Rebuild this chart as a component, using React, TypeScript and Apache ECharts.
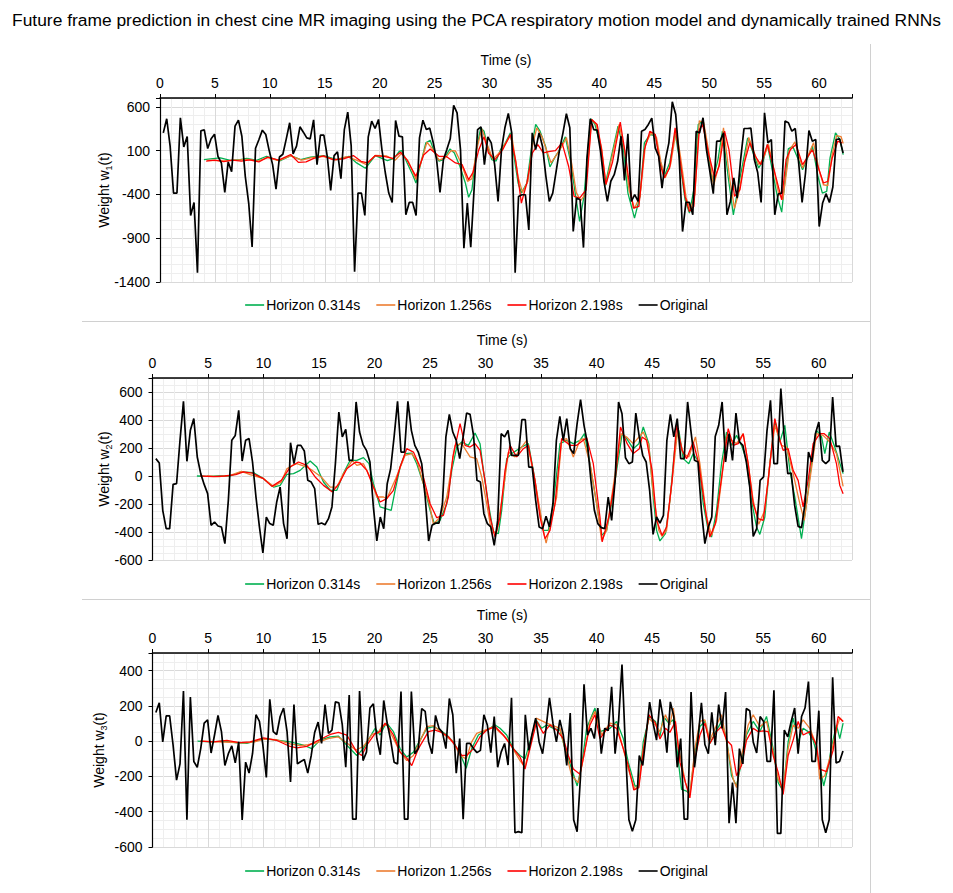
import React, { useEffect, useRef } from "react";
import * as echarts from "echarts";

// Frame timing of the cine MR sequence (seconds)
const FRAME_T0 = 0.3;
const FRAME_DT = 0.311;

const SERIES_NAMES = ["Horizon 0.314s", "Horizon 1.256s", "Horizon 2.198s", "Original"];
const SERIES_COLORS = ["#00B050", "#ED7D31", "#FF0000", "#000000"];
const TIME_TICKS = { min: 0, max: 63, interval: 5 };

// ---------- Weight w1(t) ----------
const w1Original = [
  302, 463, 150, -385, -385, 474, 142, 260, -640, -492,
  -1293, 325, 337, 123, 234, 287, 35, -41, -377, -30,
  -140, 379, 447, 264, -194, -499, -1000, 127, 226, 333,
  283, 100, -60, -339, 27, 58, 234, 417, 62, 150,
  371, 310, 245, 234, 451, -60, 276, 276, 35, -354,
  43, 85, -221, 340, 539, 157, -1282, -385, -385, -640,
  257, 436, 352, 455, 111, -156, -385, -492, 443, 264,
  257, -633, -492, -492, -640, 245, 447, 340, 356, 195,
  -3, -377, -3, 111, 234, 615, 531, 111, -1015, -499,
  -1003, -330, 340, 371, -60, 257, 188, -60, -480, 111,
  360, 524, 302, -1293, -423, -404, -404, -805, 302, 111,
  302, 150, -194, -480, -385, -137, 111, 302, 520, 360,
  -824, -442, -461, -1007, 0, 463, 340, 333, 92, -251,
  -480, -250, -175, -22, 264, -240, 291, -480, -404, -480,
  321, 340, 398, 470, 130, 35, -328, -3, 188, 657,
  512, 35, -824, -492, -492, -633, 321, 302, 474, 111,
  -137, -392, 207, 207, 302, -633, -480, -213, -442, -3,
  352, 352, 356, 0, -150, -492, 531, 188, 226, -633,
  -396, -385, 436, 417, 321, 352, -41, -492, -156, 329,
  207, 226, -767, -499, -392, -492, -316, 226, 234, 73,
];

const w1H0314 = [
  [4.0, -3], [4.6, 5], [5.5, 16], [6.4, -11], [7.3, -3], [7.9, 12], [8.8, -11], [9.7, 35],
  [10.9, -18], [11.9, 43], [12.8, -3], [13.7, 24], [14.9, 43], [16.1, -3], [17.2, 35], [17.9, -41],
  [18.7, -102], [19.6, 43], [20.7, -15], [21.3, 12], [21.8, 92], [22.0, 100], [22.5, -41], [23.0, -175],
  [23.3, -270], [24.2, 188], [24.6, 218], [24.9, 111], [25.4, -22], [25.8, -3], [26.4, 119], [26.8, 73],
  [27.3, -79], [27.8, -270], [28.1, -434], [28.4, -347], [28.8, 111], [29.2, 360], [29.5, 321], [29.8, 150],
  [30.2, -3], [30.6, -20], [31.0, 111], [31.4, 176], [31.9, 302], [32.6, -270], [32.9, -385], [33.4, -270],
  [33.8, 111], [34.2, 398], [34.6, 321], [35.1, 150], [35.5, -87], [36.0, 35], [36.4, 111], [36.9, 257],
  [37.4, -41], [37.8, -385], [38.2, -709], [38.6, -423], [39.2, 463], [39.6, 398], [40.1, 150], [40.5, -305],
  [41.3, 150], [41.7, 379], [42.2, 111], [42.6, -385], [43.2, -671], [43.7, -423], [44.1, 188], [44.6, 283],
  [45.1, 272], [45.5, -3], [45.9, -194], [46.4, -41], [46.9, 302], [47.3, -3], [47.8, -461], [48.2, -614],
  [48.6, -347], [49.0, 398], [49.4, 436], [49.8, 150], [50.3, -251], [50.8, -3], [51.2, 321], [51.8, -270],
  [52.2, -633], [52.6, -347], [53.5, 245], [54.5, -98], [54.9, -22], [55.3, 169], [55.8, -156], [56.2, -423],
  [56.6, -603], [57.2, 119], [57.6, 150], [58.5, -118], [59.4, 150], [59.9, -194], [60.3, -385], [60.7, -366],
  [61.0, 16], [61.5, 302], [61.9, 226], [62.2, 54],
];

const w1H1256 = [
  [4.3, -11], [5.2, -15], [6.0, -18], [7.0, -8], [8.0, 0], [8.9, -20], [9.8, 20], [10.8, -15],
  [11.9, 40], [12.9, -10], [13.8, 20], [14.8, 35], [16.0, -5], [17.0, 30], [18.0, -15], [18.8, -60],
  [19.6, 45], [20.6, 40], [21.4, -10], [22.0, 70], [22.6, -20], [23.3, -230], [24.3, 195], [24.8, 120],
  [25.4, -10], [26.0, 20], [26.5, 100], [26.9, 95], [27.4, -40], [28.0, -251], [28.4, -220], [28.9, 150],
  [29.3, 348], [29.7, 200], [30.3, 0], [31.0, 90], [31.5, 190], [32.0, 290], [32.6, -200], [33.0, -377],
  [33.5, -250], [33.9, 150], [34.3, 360], [34.8, 250], [35.2, 100], [35.6, -40], [36.1, 50], [36.6, 150],
  [37.0, 250], [37.5, -60], [37.9, -380], [38.3, -470], [38.7, -400], [39.3, 455], [39.7, 400], [40.2, 130],
  [40.6, -290], [41.4, 170], [41.8, 400], [42.3, 100], [42.7, -350], [43.2, -560], [43.7, -420], [44.2, 170],
  [44.7, 300], [45.2, 250], [45.6, -30], [46.0, -210], [46.5, -50], [47.0, 340], [47.4, 20], [47.9, -440],
  [48.3, -580], [48.7, -400], [49.1, 440], [49.5, 420], [49.9, 130], [50.4, -300], [50.9, -60], [51.3, 360],
  [51.9, -250], [52.3, -560], [52.7, -380], [53.6, 250], [54.5, -60], [54.9, 0], [55.4, 170], [55.9, -120],
  [56.3, -380], [56.7, -460], [57.3, 100], [57.8, 200], [58.5, -100], [59.5, 190], [60.0, -120], [60.4, -290],
  [60.8, -300], [61.2, 60], [61.6, 270], [62.0, 260], [62.2, 180],
];

const w1H2198 = [
  [4.2, -20], [5.0, -10], [5.8, -25], [6.6, -10], [7.4, -20], [8.2, -5], [9.0, -30], [9.8, 25],
  [10.8, -10], [11.9, 55], [12.6, -35], [13.3, -30], [14.0, 10], [14.9, 40], [15.8, -5], [16.7, 5],
  [17.6, 43], [18.3, -22], [18.9, -40], [19.6, 43], [20.5, 30], [21.2, 10], [21.9, 81], [22.5, -10],
  [23.3, -194], [24.0, 50], [24.6, 119], [25.4, 35], [26.1, 30], [26.9, -41], [27.5, -60], [28.1, -232],
  [28.5, -148], [29.0, 100], [29.5, 257], [29.9, 73], [30.5, -3], [31.2, 110], [31.9, 283], [32.4, -30],
  [32.9, -499], [33.4, -270], [33.9, 73], [34.4, 169], [34.9, 73], [35.5, 90], [36.0, 100], [36.6, 188],
  [37.2, -79], [37.7, -423], [38.2, -442], [38.8, -347], [39.3, 455], [39.8, 398], [40.2, 110], [40.6, -285],
  [41.2, -30], [41.9, 424], [42.3, 111], [42.7, -250], [43.1, -557], [43.6, -537], [44.1, 111], [44.6, 321],
  [45.1, 283], [45.5, -41], [45.9, -213], [46.4, -98], [46.9, 360], [47.3, 35], [47.8, -423], [48.2, -595],
  [48.6, -537], [49.1, 340], [49.4, 398], [50.0, 35], [50.5, -213], [50.9, -80], [51.4, 321], [51.8, 111],
  [52.3, -423], [52.8, -347], [53.2, -40], [53.7, 188], [54.2, 35], [54.7, -60], [55.3, 169], [55.9, -118],
  [56.6, -461], [57.0, -3], [57.4, 111], [57.9, 169], [58.5, -60], [59.2, 73], [59.4, 111], [60.0, -118],
  [60.4, -270], [60.8, -251], [61.2, 16], [61.7, 207], [62.1, 188],
];

// ---------- Weight w2(t) ----------
const w2Original = [
  124, 93, -245, -376, -376, -60, -55, 255, 533, 105,
  326, 410, 136, 17, -60, -126, -352, -329, -357, -364,
  -483, -174, 255, 290, 469, 107, 255, 267, 100,
  -150, -364, -550, -293, -340, -352, -186, -79, -340, -448,
  238, 88, 219, 219, 179, -31, -43, -90, -345, -336,
  -348, -305, -221, 88, 457, 279, 333, 112, 112, 529,
  314, 224, 183, 100, -221, -464, -293, -376, -55, 52,
  279, 533, 171, 171, 533, 326, 219, 171, 88, -150,
  -464, -352, -336, -336, -198, 279, 440, 314, 255, 124,
  279, 450, 440, 290, -31, -43, -269, -340, -364, -495,
  -317, 302, 279, 326, 148, 148, 148, 402, 402, 64,
  64, -174, -364, -376, -288, -364, -198, 255, 426, 255,
  410, 195, 160, 374, 545, 362, 231, -31, -245, -340,
  -369, -376, -150, -317, -31, 529, 445, 130, 88, 100,
  450, 279, 148, 100, -102, -417, -293, -336, -281, 255,
  440, 279, 410, 124, 124, 529, 314, 112, 100, -245,
  -483, -364, -293, 283, 362, 529, 100, 302, 112, 450,
  243, 219, 100, -79, -431, -376, -31, -7, 326, 540,
  88, 88, 624, 267, 17, 21, -210, -360, -369, -198,
  171, 100, 302, 386, 112, 88, 112, 564, 212, 214,
  29,
];

const w2H0314 = [
  [4.0, 0], [5.0, -2], [6.0, 0], [7.0, 0], [8.0, 29], [9.1, 24], [10.0, -19], [10.9, -79],
  [11.5, -67], [12.1, 12], [12.7, 17], [13.3, 40], [14.2, 107], [14.8, 64], [15.4, -43], [16.0, -102],
  [16.6, -102], [17.2, 20], [17.8, 112], [18.4, 112], [19.0, 131], [19.5, 88], [19.9, -55], [20.5, -221],
  [21.0, -233], [21.5, -245], [21.85, -102], [22.3, 64], [22.75, 160], [23.35, 164], [23.8, 88], [24.4, -55],
  [25.0, -245], [25.4, -345], [25.9, -317], [26.5, -198], [26.95, 40], [27.4, 207], [27.85, 243], [28.45, 219],
  [29.05, 307], [29.5, 231], [29.8, 40], [30.25, -198], [30.7, -400], [31.15, -412], [31.45, -245], [31.9, 124],
  [32.35, 160], [33.25, 207], [33.85, 231], [34.3, 40], [34.75, -198], [35.2, -388], [35.65, -388], [36.1, -198],
  [36.7, 231], [37.3, 255], [37.9, 231], [38.5, 255], [38.9, 302], [39.4, 88], [40.0, -198], [40.45, -424],
  [40.9, -388], [41.35, -198], [42.3, 302], [42.6, 279], [43.3, 195], [43.8, 231], [44.2, 350], [44.7, 231],
  [45.1, -150], [45.4, -388], [45.7, -464], [46.2, -412], [46.6, -174], [47.1, 255], [47.4, 326], [47.8, 124],
  [48.3, 88], [48.7, 160], [49.2, 100], [49.6, -198], [50.05, -388], [50.35, -436], [50.8, -245], [51.25, 88],
  [51.7, 314], [52.15, 219], [52.6, 290], [53.05, 219], [53.5, 112], [53.95, -174], [54.4, -364], [54.7, -417],
  [55.15, -293], [55.6, 88], [56.05, 398], [56.5, 243], [56.95, 362], [57.4, 40], [57.85, -150], [58.45, -448],
  [58.9, -198], [59.35, 88], [59.8, 326], [60.25, 283], [60.55, 160], [60.95, 314], [61.45, 207], [62.2, 17],
];

const w2H1256 = [
  [4.9, 0], [6.0, -5], [7.0, 5], [8.0, 33], [8.8, 10], [10.0, -19], [10.9, -74], [11.6, -43],
  [12.1, 52], [12.6, 76], [13.0, 88], [13.9, 64], [14.4, 40], [15.2, -7], [16.0, -79], [16.6, -79],
  [17.2, 17], [18.0, 112], [18.4, 76], [19.0, 88], [19.6, -7], [20.2, -150], [20.8, -150], [21.1, -162],
  [21.9, -20], [22.75, 148], [23.35, 160], [23.8, 112], [25.0, -221], [25.3, -345], [25.9, -293], [26.5, -150],
  [27.25, 219], [27.85, 231], [28.6, 136], [29.2, 124], [29.65, -7], [30.1, -198], [30.55, -407], [31.0, -400],
  [31.6, -102], [32.05, 171], [32.65, 136], [33.25, 207], [33.7, 255], [34.45, -31], [35.2, -388], [35.45, -479],
  [35.8, -364], [36.4, -150], [36.85, 255], [37.3, 267], [37.9, 136], [38.5, 255], [38.8, 267], [39.4, 88],
  [40.0, -198], [40.45, -460], [40.9, -388], [41.35, -150], [42.2, 302], [42.7, 279], [43.3, 231], [44.2, 314],
  [44.7, 219], [45.1, -126], [45.6, -388], [45.9, -431], [46.3, -388], [46.9, 40], [47.3, 326], [47.8, 160],
  [48.3, 136], [48.9, 279], [49.3, 88], [49.9, -293], [50.35, -424], [50.8, -317], [51.25, -31], [51.7, 279],
  [52.15, 255], [52.6, 231], [53.2, 302], [53.65, 88], [54.1, -174], [54.6, -345], [55.15, -245], [55.6, 88],
  [56.05, 362], [56.65, 219], [57.1, 207], [57.7, 17], [58.3, -198], [58.7, -317], [59.2, -31], [59.8, 302],
  [60.4, 290], [61.0, 243], [61.6, 160], [62.2, -74],
];

const w2H2198 = [
  [4.3, 0], [5.5, -5], [6.5, 0], [7.5, 10], [8.2, 29], [9.0, 20], [10.0, -19], [10.75, -74],
  [11.6, -31], [12.4, 64], [13.15, 100], [13.9, 76], [14.65, -7], [15.4, -67], [16.2, -114], [16.8, -55],
  [17.5, 52], [18.3, 100], [18.7, 93], [19.3, 40], [19.9, -79], [20.5, -186], [21.1, -162], [21.7, -102],
  [22.3, 64], [22.9, 195], [23.5, 171], [24.25, 40], [25.0, -198], [25.6, -298], [26.2, -281], [26.65, -150],
  [27.05, 136], [27.7, 374], [28.15, 219], [28.6, 207], [29.05, 231], [29.5, 183], [29.95, -31], [30.4, -293],
  [30.85, -436], [31.3, -293], [31.75, 40], [32.2, 219], [32.8, 136], [33.4, 195], [33.85, 219], [34.45, -31],
  [34.9, -293], [35.35, -448], [35.8, -388], [36.25, -198], [36.85, 267], [37.6, 219], [38.2, 219], [39.1, 274],
  [39.7, 88], [40.3, -293], [40.5, -471], [41.1, -293], [41.7, -7], [42.15, 350], [42.75, 231], [43.3, 160],
  [43.85, 195], [44.1, 279], [44.5, 255], [45.0, 40], [45.4, -317], [45.9, -424], [46.3, -364], [46.8, -31],
  [47.2, 362], [47.7, 183], [48.1, 124], [48.7, 243], [49.2, 88], [49.8, -245], [50.2, -436], [50.7, -340],
  [51.1, -102], [51.85, 338], [52.3, 219], [52.75, 231], [53.2, 302], [53.65, 88], [54.1, -198], [54.55, -305],
  [55.0, -317], [55.45, -31], [56.05, 410], [56.5, 255], [56.8, 183], [57.25, 195], [57.7, 40], [58.15, -31],
  [58.6, -221], [59.05, -31], [59.5, 231], [60.1, 302], [60.5, 302], [61.0, 267], [61.6, 88], [61.9, -67],
  [62.2, -126],
];

// ---------- Weight w3(t) ----------
const w3Original = [
  163, 217, -4, 144, 144, -23, -221, -129, 285, -446,
  250, -115, -148, -42, 102, 121, -67, 35, 146, 54,
  -138, -71, -27, -123, -4, -446, -119, -181, -71, 150,
  112, -23, -206, 237, 54, 38, 140, 188, 54, -231,
  208, -129, -115, -104, -181, -81, 50, 108, -13, 208,
  44, 63, 223, 217, 92, -148, 262, -442, -442, 285,
  -110, -62, 188, 212, 15, -77, 231, 102, 6, -119,
  -129, 281, -442, -442, 281, -71, -42, 185, 169, -4,
  -71, 146, 73, 50, -42, 242, 150, -181, 15, -442,
  -13, -13, -42, -65, -52, 150, 92, -65, 140, -148,
  -62, -13, -135, 246, -519, -513, -519, 150, -52, 44,
  131, -4, -71, 73, 246, 102, -4, 121, 35, -138,
  160, -446, -513, -196, 323, 35, 73, 15, 188, -71,
  73, 60, 308, -71, 112, 435, -42, -446, -510, -446,
  -81, -138, 35, 221, 102, 6, 237, 121, -65, 223,
  140, -148, 15, -442, -442, 279, -148, 15, 217, -19,
  -71, 163, -23, 208, 73, 279, -465, -235, -465, -42,
  -129, 185, 173, -4, -67, 140, 112, -115, -115, 289,
  -523, -523, 63, 25, 112, 188, -71, 140, 188, 338,
  -115, -115, 173, -446, -519, -446, 362, -123, -115, -56,
];

const w3H0314 = [
  [4.05, 0], [5.2, -4], [6.4, 0], [7.6, -10], [8.5, -13], [10.0, 15], [11.2, 6], [12.4, -4],
  [13.6, -23], [14.35, -42], [15.1, 6], [16.0, 25], [16.75, 29], [17.5, -23], [18.4, -81], [19.0, -42],
  [19.6, 25], [20.05, 73], [20.5, 35], [20.95, 92], [21.1, 102], [21.7, 54], [22.3, -42], [22.9, -90],
  [23.5, -62], [24.1, 6], [24.7, 73], [25.3, 83], [25.9, 63], [26.5, 35], [27.1, -4], [27.7, -71],
  [28.25, -154], [28.75, -42], [29.35, 35], [30.1, 63], [30.85, 92], [31.3, 73], [31.9, 35], [32.5, -42],
  [33.1, -81], [33.55, -100], [34.0, -4], [34.55, 121], [35.05, 73], [35.5, 92], [36.1, 73], [36.7, 63],
  [37.15, -42], [37.75, -158], [38.25, -254], [38.65, -138], [39.1, 73], [39.85, 188], [40.3, 54], [41.2, 73],
  [41.8, 112], [42.4, 15], [42.85, -119], [43.45, -254], [43.8, -254], [44.2, -4], [44.75, 140], [45.3, 112],
  [45.7, 25], [46.0, 140], [46.5, 102], [46.9, 121], [47.2, -23], [47.65, -273], [48.1, -283], [48.4, -302],
  [48.85, -62], [49.3, 83], [49.75, 112], [50.2, -13], [50.65, 44], [51.25, 112], [51.7, 15], [52.15, -196],
  [52.6, -254], [53.05, -119], [53.5, 35], [54.1, 112], [54.7, 54], [55.3, 140], [55.9, -42], [56.35, -235],
  [56.8, -283], [57.25, -4], [57.7, 131], [58.15, -4], [58.6, 73], [59.05, 54], [59.5, 6], [60.1, -138],
  [60.45, -254], [60.85, -148], [61.15, -33], [61.6, 92], [61.9, 15], [62.2, 102],
];

const w3H1256 = [
  [4.5, 0], [5.8, -4], [7.0, -6], [8.3, -10], [9.2, -4], [10.0, 12], [11.2, 8], [12.4, -15],
  [13.3, -25], [14.0, -20], [14.8, -10], [15.8, 15], [16.7, 25], [17.6, -15], [18.3, -50], [19.0, -30],
  [19.8, 40], [20.3, 45], [20.7, 90], [21.1, 92], [22.3, -62], [22.9, -110], [23.5, -81], [24.7, 83],
  [25.3, 88], [26.5, 25], [27.1, -4], [27.7, -81], [28.25, -100], [28.75, -4], [29.2, 44], [29.8, 58],
  [30.7, 83], [31.9, 15], [33.1, -110], [33.55, -148], [34.0, -23], [34.55, 131], [35.5, 102], [36.7, 73],
  [37.3, -81], [37.75, -196], [38.35, -235], [38.8, -100], [39.4, 112], [39.85, 169], [40.45, 35], [41.2, 102],
  [41.8, 92], [42.4, -42], [42.85, -158], [43.45, -273], [43.8, -244], [44.2, -42], [44.7, 131], [45.3, 92],
  [45.7, 54], [46.2, 150], [46.6, 92], [46.9, 188], [47.4, -42], [48.0, -235], [48.4, -302], [48.85, -42],
  [49.3, 112], [49.75, 121], [50.2, 6], [50.8, 92], [51.25, 150], [51.7, -4], [52.3, -215], [52.6, -263],
  [53.05, -81], [53.65, 92], [54.1, 150], [54.7, 83], [55.3, 112], [55.9, -62], [56.35, -215], [56.8, -273],
  [57.25, -42], [57.7, 92], [58.15, 73], [58.6, 121], [59.2, 73], [59.8, -23], [60.1, -215], [60.55, -196],
  [61.15, -62], [61.6, 73], [61.9, 131], [62.2, 112],
];

const w3H2198 = [
  [4.3, 0], [5.5, -4], [6.7, 4], [7.8, -8], [8.8, -4], [10.0, 19], [11.2, 4], [12.4, -30],
  [13.0, -38], [13.9, -29], [14.8, 0], [16.0, 38], [16.75, 50], [17.5, 35], [18.4, -62], [18.85, -81],
  [19.3, -23], [20.05, 44], [20.5, 54], [20.95, 102], [21.1, 92], [21.7, 35], [22.3, -62], [22.9, -96],
  [23.35, -138], [23.95, -42], [24.85, 54], [25.45, 63], [26.05, 50], [26.65, 25], [27.25, -23], [27.85, -81],
  [28.3, -81], [28.9, -42], [29.5, 25], [30.1, 63], [30.85, 83], [31.6, 35], [32.5, -42], [33.1, -90],
  [33.55, -158], [34.0, -42], [34.6, 112], [35.2, 44], [35.8, 92], [36.4, 63], [37.0, 15], [37.45, -81],
  [37.9, -158], [38.5, -187], [38.85, -81], [39.4, 92], [39.85, 150], [40.3, 15], [41.2, 92], [41.8, 73],
  [42.4, -42], [42.85, -138], [43.35, -277], [43.8, -263], [44.2, -62], [44.7, 150], [45.3, 102], [45.7, 12],
  [46.2, 73], [46.6, 50], [47.1, 112], [47.5, -119], [48.0, -235], [48.4, -321], [48.85, -100], [49.3, 35],
  [49.75, 102], [50.2, -13], [50.8, 54], [51.25, 83], [51.7, 6], [52.15, -23], [52.6, -196], [53.05, -138],
  [53.5, 6], [54.1, 73], [54.55, 54], [55.0, 58], [55.45, 54], [55.9, -81], [56.35, -177], [56.8, -302],
  [57.25, -81], [57.7, 6], [58.15, 112], [58.6, 35], [59.2, 54], [59.8, -23], [60.1, -158], [60.7, -173],
  [61.3, -52], [61.75, 140], [62.2, 112],
];

const TITLE =
  "Future frame prediction in chest cine MR imaging using the PCA respiratory motion model and dynamically trained RNNs";

const FONT = "'Liberation Sans', Arial, sans-serif";

const framesToPoints = (vals: number[]) => vals.map((v, i) => [FRAME_T0 + i * FRAME_DT, v]);

const panels = [
  {
    grid: { left: 160, top: 98, width: 692, height: 184 },
    y: { min: -1400, max: 700, interval: 500, minor: 5 },
    sub: "1",
    nameGap: 47,
    legendTop: 296,
    data: [w1H0314, w1H1256, w1H2198, framesToPoints(w1Original)],
  },
  {
    grid: { left: 152.5, top: 378, width: 699.5, height: 182 },
    y: { min: -600, max: 700, interval: 200, minor: 4 },
    sub: "2",
    nameGap: 39.5,
    legendTop: 575,
    data: [w2H0314, w2H1256, w2H2198, framesToPoints(w2Original)],
  },
  {
    grid: { left: 152.5, top: 653, width: 699.5, height: 194 },
    y: { min: -600, max: 500, interval: 200, minor: 4 },
    sub: "3",
    nameGap: 44.5,
    legendTop: 862,
    data: [w3H0314, w3H1256, w3H2198, framesToPoints(w3Original)],
  },
];

function buildOption() {
  const grid = panels.map((p) => ({ ...p.grid, containLabel: false }));

  const xAxis = panels.map((_, i) => ({
    type: "value",
    gridIndex: i,
    position: "top",
    min: TIME_TICKS.min,
    max: TIME_TICKS.max,
    interval: TIME_TICKS.interval,
    name: "Time (s)",
    nameLocation: "middle",
    nameGap: 31,
    nameMoveOverlap: false,
    nameTextStyle: { fontFamily: FONT, fontSize: 14, color: "#000" },
    axisLine: { show: true, onZero: false, lineStyle: { color: "#000", width: 1.5 } },
    axisTick: { show: true, inside: false, length: 4, lineStyle: { color: "#000" } },
    axisLabel: { fontFamily: FONT, fontSize: 14, color: "#000", margin: 8, showMaxLabel: false },
    splitLine: { show: true, lineStyle: { color: "#d9d9d9", width: 1 } },
    minorTick: { show: true, splitNumber: 5, length: 0 },
    minorSplitLine: { show: true, lineStyle: { color: "#eeeeee", width: 1 } },
  }));

  const yAxis = panels.map((p, i) => ({
    type: "value",
    gridIndex: i,
    min: p.y.min,
    max: p.y.max,
    interval: p.y.interval,
    name: `Weight w{s|${p.sub}}(t)`,
    nameLocation: "middle",
    nameRotate: 90,
    nameGap: p.nameGap,
    nameMoveOverlap: false,
    nameTextStyle: {
      fontFamily: FONT,
      fontSize: 14,
      color: "#000",
      lineHeight: 18,
      rich: {
        s: { fontFamily: FONT, fontSize: 9, color: "#000", verticalAlign: "bottom", lineHeight: 9 },
      },
    },
    axisLine: { show: true, onZero: false, lineStyle: { color: "#000", width: 1.2 } },
    axisTick: { show: true, inside: false, length: 4, lineStyle: { color: "#000" } },
    axisLabel: {
      fontFamily: FONT,
      fontSize: 14,
      color: "#000",
      margin: 10,
      showMaxLabel: false,
      formatter: (v: number) => String(v),
    },
    splitLine: { show: true, lineStyle: { color: "#d9d9d9", width: 1 } },
    minorTick: { show: true, splitNumber: p.y.minor, length: 0 },
    minorSplitLine: { show: true, lineStyle: { color: "#eeeeee", width: 1 } },
  }));

  const series: any[] = [];
  panels.forEach((p, i) => {
    p.data.forEach((d, j) => {
      series.push({
        type: "line",
        name: SERIES_NAMES[j],
        xAxisIndex: i,
        yAxisIndex: i,
        data: d,
        symbol: "none",
        showSymbol: false,
        smooth: false,
        silent: true,
        z: 2 + j,
        lineStyle: { color: SERIES_COLORS[j], width: j === 3 ? 1.7 : 1.3 },
        itemStyle: { color: SERIES_COLORS[j] },
      });
    });
  });

  const legend = panels.map((p) => ({
    top: p.legendTop - 3,
    left: "center",
    icon: "rect",
    itemWidth: 19,
    itemHeight: 1.6,
    itemGap: 16,
    textStyle: { fontFamily: FONT, fontSize: 14, color: "#000", padding: [0, 0, 0, -3] },
    data: SERIES_NAMES,
    selectedMode: false,
  }));

  const frameStyle = { stroke: "#d0d0d0", lineWidth: 1 };
  const graphic = [
    { type: "line", shape: { x1: 82, y1: 321.5, x2: 870, y2: 321.5 }, style: frameStyle, silent: true },
    { type: "line", shape: { x1: 82, y1: 599.5, x2: 870, y2: 599.5 }, style: frameStyle, silent: true },
    { type: "line", shape: { x1: 870.5, y1: 44, x2: 870.5, y2: 893 }, style: frameStyle, silent: true },
  ];

  return {
    animation: false,
    backgroundColor: "#ffffff",
    title: {
      text: TITLE,
      left: "center",
      top: 6,
      textStyle: { fontFamily: FONT, fontSize: 17.4, fontWeight: "normal", color: "#000" },
    },
    grid,
    xAxis,
    yAxis,
    legend,
    graphic,
    series,
  };
}

export default function App() {
  const ref = useRef<HTMLDivElement | null>(null);

  useEffect(() => {
    if (!ref.current) return;
    const chart = echarts.init(ref.current, null, { renderer: "svg" });
    chart.setOption(buildOption() as any);
    return () => chart.dispose();
  }, []);

  return (
    <div
      ref={ref}
      style={{ position: "absolute", left: 0, top: 0, width: 953, height: 893, background: "#fff" }}
    />
  );
}
